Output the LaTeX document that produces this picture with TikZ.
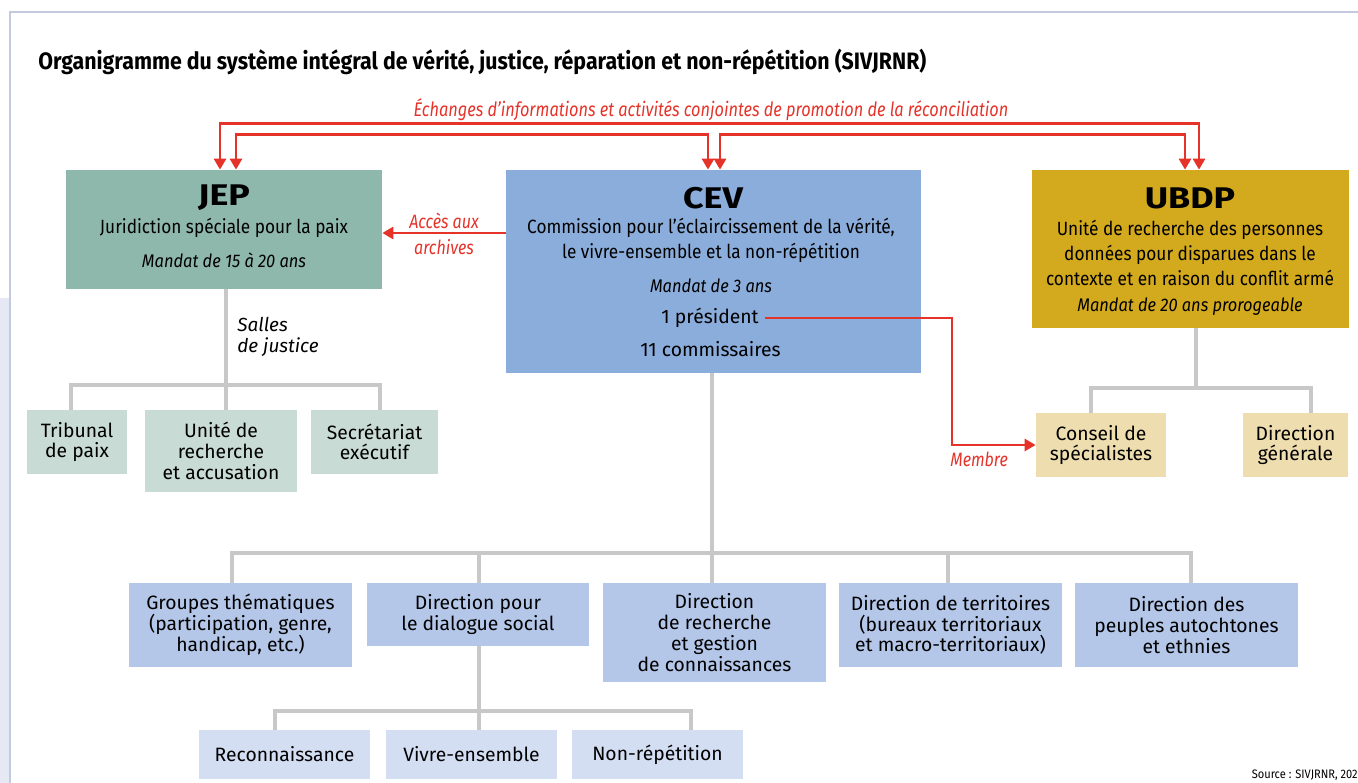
\documentclass[tikz,border=0pt]{standalone}
\usepackage{fontspec}
\setmainfont{Fira Sans}
\newfontfamily\condfont[FakeStretch=0.9]{Fira Sans}
\newfontfamily\redfont[FakeStretch=0.83]{Fira Sans}
\newfontfamily\titlefont[FakeStretch=0.9]{Fira Sans}
\newfontfamily\headfont[FakeStretch=1.2]{Fira Sans}
\usepackage{xcolor}
\usetikzlibrary{arrows.meta,positioning}
\definecolor{redline}{HTML}{E5332A}
\definecolor{treegray}{HTML}{C8C8C8}
\definecolor{framec}{HTML}{C3C9DF}
\definecolor{stripc}{HTML}{E6E9F3}
\definecolor{jepc}{HTML}{8FB8AD}
\definecolor{jeplight}{HTML}{C9DBD5}
\definecolor{cevc}{HTML}{8BADDB}
\definecolor{cevlight}{HTML}{B4C7E9}
\definecolor{cevpale}{HTML}{D3DEF2}
\definecolor{ubdpc}{HTML}{D3A91E}
\definecolor{ubdplight}{HTML}{EEDDAE}

\begin{document}
\begin{tikzpicture}[x=0.02cm,y=-0.02cm,font=\fontsize{11}{12}\selectfont,>={Triangle[length=0.22cm,width=0.24cm]}]
\tikzset{box/.style={inner sep=0pt,align=center,font=\fontsize{11}{11.8}\selectfont},
  big/.style={inner sep=0pt},
  head/.style={font=\headfont\bfseries\fontsize{17}{18}\selectfont},
  sub/.style={align=center,font=\condfont\fontsize{10.9}{14.2}\selectfont},
  mandat/.style={font=\condfont\itshape\fontsize{10.4}{12}\selectfont},
  tree/.style={draw=treegray,line width=2.3pt},
  link/.style={draw=redline,line width=1.6pt},
  note/.style={text=redline,align=center,font=\redfont\itshape\fontsize{11}{15}\selectfont}}
\useasboundingbox (0,0) rectangle (1358,783);
% frame of the page
\fill[stripc] (0,298) rectangle (9,783);
\draw[framec,line width=1.1pt] (10,783) -- (10,12) -- (1358,12);
\node[anchor=west,inner sep=0pt,font=\titlefont\bfseries\fontsize{13.5}{15}\selectfont] (title) at (38,62)
  {Organigramme du système intégral de vérité, justice, réparation et non-répétition (SIVJRNR)};
\node[note,font=\redfont\itshape\fontsize{11.2}{14}\selectfont] (echanges) at (711,110) {Échanges d’informations et activités conjointes de promotion de la réconciliation};

% three institutions
\node[big,fill=jepc,minimum width=6.32cm,minimum height=2.38cm] (jep) at (224,229.5) {};
\node[big,fill=cevc,minimum width=8.3cm,minimum height=4.06cm] (cev) at (713.5,271.5) {};
\node[big,fill=ubdpc,minimum width=6.34cm,minimum height=3.16cm] (ubdp) at (1190.5,249) {};

\node[head] (jepname) at (224,198) {JEP};
\node[sub] (jepfull) at (224,228) {Juridiction spéciale pour la paix};
\node[mandat] (jepmandat) at (224,260) {Mandat de 15 à 20 ans};

\node[head] (cevname) at (713,198) {CEV};
\node[sub] (cevfull) at (711,240.5) {Commission pour l’éclaircissement de la vérité,\\le vivre-ensemble et la non-répétition};
\node[mandat] (cevmandat) at (711,286) {Mandat de 3 ans};
\node (pres) at (710,318) {1 président};
\node (comm) at (710.5,349) {11 commissaires};

\node[head] (ubdpname) at (1190,198) {UBDP};
\node[sub] (ubdpfull) at (1190,253) {Unité de recherche des personnes\\données pour disparues dans le\\contexte et en raison du conflit armé};
\node[mandat] (ubdpmandat) at (1190,307) {Mandat de 20 ans prorogeable};

% links between institutions
\draw[link,<->] (220,0 |- jep.north) -- ++(0,-46) -| (1199,0 |- ubdp.north);
\draw[link,<->] (236,0 |- jep.north) -- ++(0,-35) -| (708,0 |- cev.north);
\draw[link,<->] (720,0 |- cev.north) -- ++(0,-35) -| (1185,0 |- ubdp.north);
\draw[link,->] (cev.west |- 0,233) -- (jep.east |- 0,233);
\node[note] (acces) at (444,234) {Accès aux\\archives};

% JEP branch
\node[box,fill=jeplight,minimum width=2cm,minimum height=1.28cm] (tribunal) at (77,442) {Tribunal\\de paix};
\node[box,fill=jeplight,minimum width=3.04cm,minimum height=1.64cm] (unite) at (221,451) {Unité de\\recherche\\et accusation};
\node[box,fill=jeplight,minimum width=2.54cm,minimum height=1.28cm] (secretariat) at (374.5,442) {Secrétariat\\exécutif};
\coordinate (jepbar) at (226,385);
\draw[tree] (226,0 |- jep.south) -- (226,0 |- unite.north);
\draw[tree] (71,0 |- tribunal.north) |- (jepbar) -| (380,0 |- secretariat.north);
\node[anchor=west,align=left,inner sep=0pt,font=\itshape\fontsize{10.8}{12}\selectfont] (salles) at (237,337) {Salles\\de justice};

% UBDP branch
\node[box,fill=ubdplight,minimum width=2.6cm,minimum height=1.28cm] (conseil) at (1101,445) {Conseil de\\spécialistes};
\node[box,fill=ubdplight,minimum width=2.1cm,minimum height=1.28cm] (dirgen) at (1295.5,445) {Direction\\générale};
\coordinate (ubdpbar) at (1196,388);
\draw[tree] (1196,0 |- ubdp.south) -- (ubdpbar);
\draw[tree] (1091,0 |- conseil.north) |- (ubdpbar) -| (1311,0 |- dirgen.north);

% member link
\draw[link,->] (pres.east) -- (952,0 |- pres.east) |- (conseil.west);
\node[note,anchor=west,inner sep=0pt] (membre) at (950,459) {Membre};

% CEV branch
\node[box,fill=cevlight,minimum width=4.46cm,minimum height=1.68cm] (groupes) at (240.5,625) {Groupes thématiques\\(participation, genre,\\handicap, etc.)};
\node[box,fill=cevlight,minimum width=4.44cm,minimum height=1.26cm] (dialogue) at (478,614.5) {Direction pour\\le dialogue social};
\node[box,fill=cevlight,minimum width=4.46cm,minimum height=1.98cm] (recherche) at (714.5,632.5) {Direction\\de recherche\\et gestion\\de connaissances};
\node[box,fill=cevlight,minimum width=4.46cm,minimum height=1.68cm] (territoires) at (950.5,625) {Direction de territoires\\(bureaux territoriaux\\et macro-territoriaux)};
\node[box,fill=cevlight,minimum width=4.46cm,minimum height=1.68cm] (peuples) at (1186.5,625) {Direction des\\peuples autochtones\\et ethnies};
\coordinate (cevbar) at (712,553);
\draw[tree] (712,0 |- cev.south) -- (712,0 |- recherche.north);
\draw[tree] (232,0 |- groupes.north) |- (cevbar) -| (1191,0 |- peuples.north);
\draw[tree] (479,0 |- cevbar) -- (479,0 |- dialogue.north);
\draw[tree] (948,0 |- cevbar) -- (948,0 |- territoires.north);

% dialogue social
\node[box,fill=cevpale,minimum width=3.42cm,minimum height=0.98cm] (reconnaissance) at (284.5,754.5) {Reconnaissance};
\node[box,fill=cevpale,minimum width=3.42cm,minimum height=0.98cm] (vivre) at (471.5,754.5) {Vivre-ensemble};
\node[box,fill=cevpale,minimum width=3.42cm,minimum height=0.98cm] (nonrep) at (657.5,754.5) {Non-répétition};
\coordinate (dialbar) at (479,711);
\draw[tree] (dialogue.south -| 479,0) -- (479,0 |- vivre.north);
\draw[tree] (275,0 |- reconnaissance.north) |- (dialbar) -| (691,0 |- nonrep.north);

\node[anchor=east,inner sep=0pt,font=\condfont\fontsize{7}{8}\selectfont] (source) at (1358,775) {Source : SIVJRNR, 202};
\end{tikzpicture}
\end{document}
